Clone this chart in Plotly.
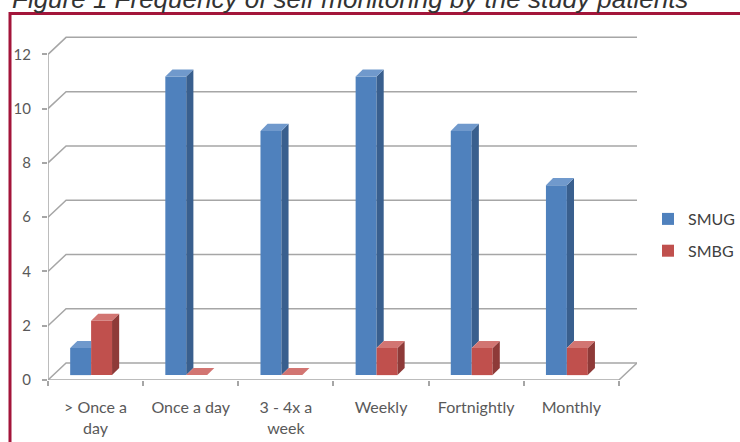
import plotly.graph_objects as go

# ---------------- data ----------------
categories = ["> Once a<br>day", "Once a day", "3 - 4x a<br>week", "Weekly", "Fortnightly", "Monthly"]
smug = [1, 11, 9, 11, 9, 7]
smbg = [2, 0, 0, 1, 1, 1]
y_ticks = [0, 2, 4, 6, 8, 10, 12]
series_names = ["SMUG", "SMBG"]
title_text = "Figure 1 Frequency of self monitoring by the study patients"

# ---------------- style ----------------
W, H = 740, 442
ML, MR, MT, MB = 48, 103, 34, 62
DXW, DYW = 0.19, 0.626          # 3-D wall depth (axis units)
BW = 0.22                        # bar width
SHIFT = -0.047                   # pair shift
BZ = 0.18                        # bars set back into depth
DX, DY = 0.075, 0.26             # bar depth
n = len(categories)
XR = [-0.5, n - 0.5 + DXW]
YR = [0, 12.75]
GRID = "#A6A6A6"
front = {"SMUG": "#4F81BD", "SMBG": "#C0504D"}
side = {"SMUG": "#395F8E", "SMBG": "#8E3A38"}
top = {"SMUG": "#7099CC", "SMBG": "#D27572"}

pw = W - ML - MR
ph = H - MT - MB


def px2paper_x(px):
    return (px - ML) / pw


def px2paper_y(py):
    return (H - MB - py) / ph


fig = go.Figure()

xb = [i + SHIFT - BW / 2 for i in range(n)]
xr_ = [i + SHIFT + BW / 2 for i in range(n)]
fig.add_trace(go.Bar(x=xb, y=smug, base=BZ, width=BW, name=series_names[0],
                     marker=dict(color=front["SMUG"], line=dict(width=0)), legendgroup="a"))
fig.add_trace(go.Bar(x=xr_, y=smbg, base=BZ, width=BW, name=series_names[1],
                     marker=dict(color=front["SMBG"], line=dict(width=0)), legendgroup="b"))


def poly(xs, ys, color):
    fig.add_trace(go.Scatter(x=xs + [xs[0]], y=ys + [ys[0]], fill="toself", fillcolor=color,
                             mode="lines", line=dict(width=0, color=color), showlegend=False,
                             hoverinfo="skip"))


# blue faces (clipped where the red bar sits in front)
for i in range(n):
    vb, vr = smug[i], smbg[i]
    xl = xb[i] - BW / 2
    xr = xb[i] + BW / 2
    if vb > vr:
        poly([xr, xr + DX, xr + DX, xr], [BZ + vr, BZ + vr + DY, BZ + vb + DY, BZ + vb], side["SMUG"])
        poly([xl, xr, xr + DX, xl + DX], [BZ + vb, BZ + vb, BZ + vb + DY, BZ + vb + DY], top["SMUG"])
    else:
        poly([xl, xr, xr, xl + DX], [BZ + vb, BZ + vb, BZ + vb + DY, BZ + vb + DY], top["SMUG"])
# red faces
for i in range(n):
    v = smbg[i]
    xl = xr_[i] - BW / 2
    xr = xr_[i] + BW / 2
    if v > 0:
        poly([xr, xr + DX, xr + DX, xr], [BZ, BZ + DY, BZ + v + DY, BZ + v], side["SMBG"])
    poly([xl, xr, xr + DX, xl + DX], [BZ + v, BZ + v, BZ + v + DY, BZ + v + DY], top["SMBG"])

# gridlines on the back wall / floor (below traces)
shapes = []
for v in y_ticks:
    path = f"M{-0.5},{v} L{-0.5 + DXW},{v + DYW} L{n - 0.5 + DXW},{v + DYW}"
    shapes.append(dict(type="path", path=path, xref="x", yref="y", layer="below",
                       line=dict(color=GRID, width=1.5)))
# floor front edge and right edge, front y-axis line
shapes.append(dict(type="path", path=f"M{-0.5},0 L{n - 0.5},0 L{n - 0.5 + DXW},{DYW}",
                   xref="x", yref="y", layer="below", line=dict(color=GRID, width=1.5)))
shapes.append(dict(type="line", x0=-0.5, x1=-0.5, y0=0, y1=max(y_ticks), xref="x", yref="y",
                   layer="below", line=dict(color=GRID, width=1.5)))
# maroon frame
shapes.append(dict(type="rect", xref="paper", yref="paper",
                   x0=px2paper_x(10), x1=px2paper_x(780), y0=px2paper_y(500), y1=px2paper_y(13.5),
                   line=dict(color="#A3153A", width=3), layer="above"))

fig.update_layout(
    width=W, height=H,
    margin=dict(l=ML, r=MR, t=MT, b=MB, autoexpand=False),
    paper_bgcolor="white", plot_bgcolor="white",
    barmode="overlay",
    shapes=shapes,
    showlegend=True,
    legend=dict(xref="container", yref="container", x=648 / W, y=1 - 202 / H,
                xanchor="left", yanchor="top",
                font=dict(family="Lato", size=16, color="#404040"),
                tracegroupgap=8, itemwidth=30, bgcolor="rgba(0,0,0,0)"),
    xaxis=dict(range=XR, showgrid=False, zeroline=False, showline=False,
               tickvals=list(range(n)), ticktext=categories, ticks="",
               tickfont=dict(family="Lato", size=16, color="#595959"),
               ticklabelstandoff=16,
               minor=dict(tickvals=[i - 0.5 for i in range(n + 1)], ticks="outside",
                          ticklen=5, tickcolor=GRID, tickwidth=1.5, showgrid=False),
               fixedrange=True),
    yaxis=dict(range=YR, showgrid=False, zeroline=False, showline=False,
               tickvals=y_ticks, ticks="outside", ticklen=5, tickcolor=GRID, tickwidth=1.5,
               tickfont=dict(family="Lato", size=15, color="#595959"),
               ticklabelstandoff=8, fixedrange=True),
    annotations=[dict(text=f"<i>{title_text}</i>", xref="paper", yref="paper",
                      x=px2paper_x(10), y=px2paper_y(16), xanchor="left", yanchor="bottom",
                      showarrow=False,
                      font=dict(family="Liberation Sans", size=26, color="#333333"))],
)

fig.write_html("out.html")
